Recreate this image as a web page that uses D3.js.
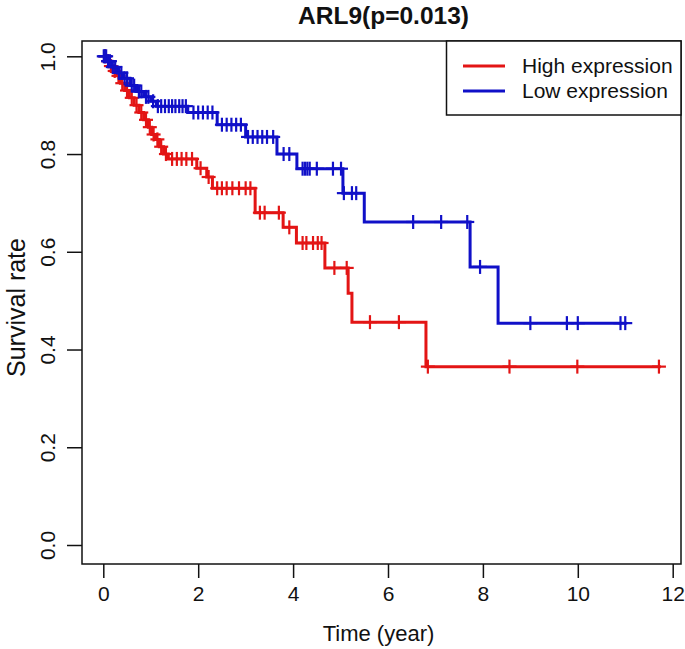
<!DOCTYPE html>
<html><head><meta charset="utf-8">
<script src="https://cdn.jsdelivr.net/npm/d3@7"></script>
<style>
html,body{margin:0;padding:0;background:#fff;}
svg{display:block;}
text{font-family:"Liberation Sans",Arial,Helvetica,sans-serif;fill:#111;}
</style></head>
<body><svg id="c" width="685" height="649"></svg>
<script>
const title = "ARL9(p=0.013)";
const xTicks = [0, 2, 4, 6, 8, 10, 12];
const yTicks = [0, 0.2, 0.4, 0.6, 0.8, 1.0];
const seriesNames = ["High expression", "Low expression"];
const seriesColors = ["#e31515", "#1010c8"];

// High expression: [time of drop, survival after drop]
const highSteps = [[0.05,0.99],[0.12,0.98],[0.2,0.97],[0.28,0.96],[0.36,0.945],[0.45,0.93],[0.55,0.915],[0.65,0.90],
  [0.75,0.885],[0.85,0.87],[0.95,0.855],[1.02,0.84],[1.1,0.83],[1.18,0.815],[1.27,0.80],[1.37,0.79],
  [1.97,0.771],[2.18,0.753],[2.3,0.73],[3.2,0.68],[3.79,0.65],[4.07,0.618],[4.67,0.567],[5.16,0.515],
  [5.24,0.456],[6.8,0.365]];
const highEnd = 11.75;
const highCensor = [0.04,0.1,0.16,0.24,0.32,0.4,0.5,0.6,0.7,0.8,0.9,0.98,1.06,1.14,1.22,1.32,
  1.45,1.55,1.65,1.75,1.87,2.05,2.22,2.4,2.5,2.6,2.72,2.86,3.0,3.1,3.3,3.4,3.7,3.92,
  4.2,4.28,4.42,4.52,4.6,4.87,5.13,5.62,6.23,6.84,8.56,9.99,11.71];

// Low expression
const lowSteps = [[0.08,0.99],[0.18,0.978],[0.3,0.966],[0.42,0.955],[0.56,0.94],[0.7,0.928],[0.85,0.917],
  [1.0,0.908],[1.12,0.898],[1.78,0.885],[2.4,0.86],[3.0,0.835],[3.66,0.80],[4.08,0.77],[5.05,0.72],
  [5.5,0.661],[7.73,0.569],[8.32,0.454]];
const lowEnd = 11.03;
const lowCensor = [0.01,0.03,0.06,0.1,0.14,0.2,0.25,0.33,0.38,0.45,0.5,0.6,0.65,0.75,0.8,0.9,0.95,1.05,
  1.15,1.22,1.3,1.38,1.45,1.52,1.6,1.67,1.74,1.9,2.0,2.1,2.2,2.3,2.5,2.6,2.7,2.8,2.9,
  3.05,3.15,3.25,3.35,3.45,3.58,3.8,3.92,4.2,4.25,4.3,4.35,4.5,4.84,5.01,5.07,5.24,5.33,
  6.53,7.12,7.67,7.94,9.0,9.77,10.0,10.9,11.0];

const svg = d3.select("#c");
const box = {l:82, r:681, t:41, b:564};
const x = d3.scaleLinear().domain([0,12]).range([103.3,672.7]);
const y = d3.scaleLinear().domain([0,1]).range([545,56.3]);

function survAt(steps, t){ let s=1; for(const [tt,v] of steps){ if(tt<=t) s=v; } return s; }

const series = [
  {steps:highSteps, end:highEnd, cens:highCensor, color:seriesColors[0]},
  {steps:lowSteps, end:lowEnd, cens:lowCensor, color:seriesColors[1]}
];
const line = d3.line().x(d=>x(d[0])).y(d=>y(d[1])).curve(d3.curveStepAfter);
series.forEach(s=>{
  const pts=[[0,1], ...s.steps, [s.end, s.steps[s.steps.length-1][1]]];
  svg.append("path").attr("d", line(pts)).attr("fill","none").attr("stroke",s.color).attr("stroke-width",3);
  const g = svg.append("g").attr("stroke",s.color).attr("stroke-width",2.2);
  s.cens.forEach(t=>{
    const px=x(t), py=y(survAt(s.steps,t));
    g.append("line").attr("x1",px).attr("x2",px).attr("y1",py-7).attr("y2",py+7);
    g.append("line").attr("x1",px-7).attr("x2",px+7).attr("y1",py).attr("y2",py);
  });
});

// box
svg.append("rect").attr("x",box.l).attr("y",box.t).attr("width",box.r-box.l).attr("height",box.b-box.t)
  .attr("fill","none").attr("stroke","#111").attr("stroke-width",1.5);

// x axis
const xa = svg.append("g").attr("transform",`translate(0,${box.b})`)
  .call(d3.axisBottom(x).tickValues(xTicks).tickSize(14).tickPadding(8).tickFormat(d3.format("d")));
xa.select(".domain").remove();
xa.selectAll("line").attr("stroke","#111").attr("stroke-width",1.5);
xa.selectAll("text").attr("font-size",21).style("font-family","'Liberation Sans',Arial,sans-serif").attr("fill","#111");

// y axis
const ya = svg.append("g").attr("transform",`translate(${box.l},0)`)
  .call(d3.axisLeft(y).tickValues(yTicks).tickSize(15).tickPadding(0).tickFormat(d3.format(".1f")));
ya.select(".domain").remove();
ya.selectAll("line").attr("stroke","#111").attr("stroke-width",1.5);
ya.selectAll("text").attr("font-size",21).style("font-family","'Liberation Sans',Arial,sans-serif").attr("fill","#111")
  .attr("text-anchor","middle").attr("x",0).attr("dy",0)
  .attr("transform","translate(-27,0) rotate(-90)");

// labels
svg.append("text").attr("x",(box.l+box.r)/2-3).attr("y",641).attr("text-anchor","middle")
  .attr("font-size",22).text("Time (year)");
svg.append("text").attr("transform",`translate(25,${(box.t+box.b)/2+5}) rotate(-90)`).attr("text-anchor","middle")
  .attr("font-size",25).text("Survival rate");
svg.append("text").attr("x",(box.l+box.r)/2+2).attr("y",24).attr("text-anchor","middle")
  .attr("font-size",24.5).attr("font-weight","bold").text(title);

// legend
const lg = svg.append("g");
lg.append("rect").attr("x",446.5).attr("y",box.t).attr("width",box.r-446.5).attr("height",115-box.t)
  .attr("fill","#fff").attr("stroke","#111").attr("stroke-width",1.5);
seriesNames.forEach((n,i)=>{
  const yy = 66 + i*25;
  lg.append("line").attr("x1",463).attr("x2",505).attr("y1",yy).attr("y2",yy)
    .attr("stroke",seriesColors[i]).attr("stroke-width",3);
  lg.append("text").attr("x",522).attr("y",yy+7).attr("font-size",21).text(n);
});
</script></body></html>
